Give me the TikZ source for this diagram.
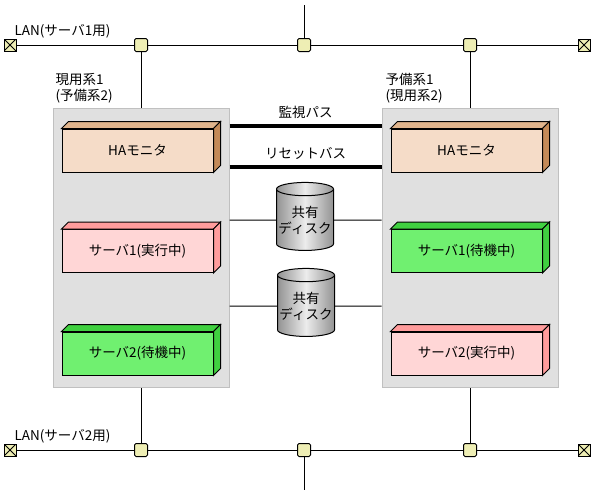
\documentclass[tikz,border=0pt]{standalone}
\usepackage{fontspec}
\setmainfont{Noto Sans CJK JP}
\usepackage{tikz}
\usetikzlibrary{shapes.geometric}
\definecolor{tapfill}{HTML}{EEEEB4}
\definecolor{sysfill}{HTML}{E0E0E0}
\definecolor{sysline}{HTML}{C0C0C0}
\definecolor{hafront}{HTML}{F5DCC8}
\definecolor{hatop}{HTML}{E0B48C}
\definecolor{haside}{HTML}{C48A58}
\definecolor{actfront}{HTML}{FFD6D6}
\definecolor{actside}{HTML}{FF9C9C}
\definecolor{stbfront}{HTML}{70F070}
\definecolor{stbside}{HTML}{40D040}
\tikzset{
  tap/.style={draw, fill=tapfill, rounded corners=1.5pt, minimum size=13pt, inner sep=0pt},
  term/.style={draw, fill=tapfill, minimum size=12pt, inner sep=0pt,
    path picture={\draw (path picture bounding box.north west) -- (path picture bounding box.south east)
      (path picture bounding box.north east) -- (path picture bounding box.south west);}},
  sysbox/.style={draw=sysline, fill=sysfill, minimum width=176pt, minimum height=279pt, inner sep=0pt},
  block/.style={draw, minimum width=151pt, minimum height=43pt, inner sep=0pt},
  bus/.style={line width=4pt},
  disk/.style={cylinder, shape border rotate=90, aspect=0.25, draw=black, minimum width=57pt, minimum height=68pt,
    left color=gray!85, right color=gray!85, middle color=gray!15, align=center, inner sep=0pt}
}
\newcommand{\blockbox}[6]{
  \node[block, fill=#3] (#1) at #2 {#6};
  \filldraw[fill=#4] (#1.north west) -- ++(7,-7) -- ([shift={(7,-7)}]#1.north east) -- (#1.north east) -- cycle;
  \filldraw[fill=#5] (#1.north east) -- ++(7,-7) -- ([shift={(7,-7)}]#1.south east) -- (#1.south east) -- cycle;
}

\begin{document}
\begin{tikzpicture}[x=1pt, y=-1pt, line width=1pt]
\tikzset{every node/.append style={font=\fontsize{13.5}{16}\selectfont}}
\useasboundingbox (0,0) rectangle (593,496);

\node[term] (tl) at (10,45) {};
\node[tap] (t1) at (141,45) {};
\node[tap] (t2) at (304,45) {};
\node[tap] (t3) at (470,45) {};
\node[term] (tr) at (584,45) {};
\coordinate (topend) at (304,5);
\node[term] (bl) at (10,450) {};
\node[tap] (b1) at (141,450) {};
\node[tap] (b2) at (304,450) {};
\node[tap] (b3) at (470,450) {};
\node[term] (br) at (584,450) {};
\coordinate (botend) at (304,490);

\node[anchor=west, inner sep=0pt] (lanA) at (14,31) {LAN(サーバ1用)};
\node[anchor=west, inner sep=0pt] (lanB) at (14,436) {LAN(サーバ2用)};
\node[anchor=north west, align=left, inner sep=0pt] (nameL) at (55,73) {現用系1\\(予備系2)};
\node[anchor=north west, align=left, inner sep=0pt] (nameR) at (385,73) {予備系1\\(現用系2)};

\draw (tl) -- (t1) -- (t2) -- (t3) -- (tr);
\draw (t2) -- (topend);
\draw (bl) -- (b1) -- (b2) -- (b3) -- (br);
\draw (b2) -- (botend);

\node[sysbox] (sysL) at (141,247.5) {};
\node[sysbox] (sysR) at (470,247.5) {};
\draw (t1) -- (sysL);
\draw (t3) -- (sysR);
\draw (b1) -- (sysL);
\draw (b3) -- (sysR);

\blockbox{haL}{(137.5,150.5)}{hafront}{hatop}{haside}{HAモニタ}
\blockbox{srvAL}{(137.5,251)}{actfront}{actside}{actside}{サーバ1(実行中)}
\blockbox{srvBL}{(137.5,353.5)}{stbfront}{stbside}{stbside}{サーバ2(待機中)}
\blockbox{haR}{(466.5,150.5)}{hafront}{hatop}{haside}{HAモニタ}
\blockbox{srvAR}{(466.5,251)}{stbfront}{stbside}{stbside}{サーバ1(待機中)}
\blockbox{srvBR}{(466.5,353.5)}{actfront}{actside}{actside}{サーバ2(実行中)}

\draw[bus] ([yshift=-18pt]sysL.north east) -- ([yshift=-18pt]sysR.north west)
  node[midway, above=2pt] {監視パス};
\draw[bus] ([yshift=-59pt]sysL.north east) -- ([yshift=-59pt]sysR.north west)
  node[midway, above=2pt] {リセットバス};

\node[disk] (disk1) at (305,220) {共有\\ディスク};
\node[disk] (disk2) at (306,306) {共有\\ディスク};
\draw[black] (sysL.east |- disk1) -- (disk1) -- (sysR.west |- disk1);
\draw[black] (sysL.east |- disk2) -- (disk2) -- (sysR.west |- disk2);
\end{tikzpicture}
\end{document}
